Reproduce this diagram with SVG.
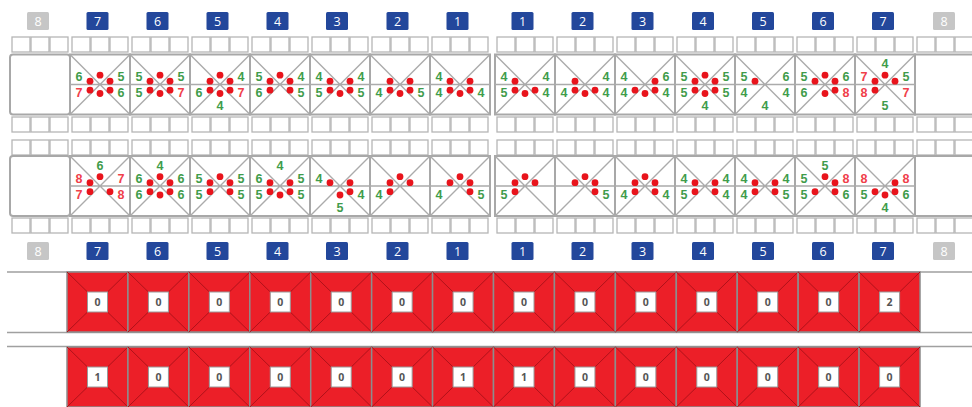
<svg xmlns="http://www.w3.org/2000/svg" xmlns:xlink="http://www.w3.org/1999/xlink" width="972" height="407" viewBox="0 0 972 407">
<style>
.cell{fill:#fff;stroke:#b6b6b6;stroke-width:1.3}
.box{fill:#fff;stroke:#a8a8a8;stroke-width:2}
.x{fill:none;stroke:#ababab;stroke-width:1.4}
.d{fill:#e8141c}
text{font-family:"Open Sans","Liberation Sans",sans-serif;text-anchor:middle}
.n{font-family:"Liberation Sans",Arial,sans-serif;font-size:12.5px;font-weight:700}
.g{fill:#3f9c4b}
.r{fill:#f0404a}
.bb{fill:#23479b}
.bg{fill:#c6c6c6}
.bt{fill:#fff;font-size:12.5px}
.sq{fill:#ec1f28;stroke:#8d8d8d;stroke-width:1.5}
.dg{fill:none;stroke:#b0121a;stroke-width:1}
.wb{fill:#fff;stroke:#9a9a9a;stroke-width:1}
.wt{font-size:10.5px;font-weight:700;fill:#555}
.hl{stroke:#a0a0a0;stroke-width:1.5;fill:none}
</style>
<defs>
<g id="c3"><rect class="cell" x="2" y="0" width="18" height="15"/><rect class="cell" x="21" y="0" width="18" height="15"/><rect class="cell" x="40" y="0" width="18" height="15"/></g>
<g id="xb"><rect class="box" width="60" height="60"/><path class="x" d="M0 0L60 60M60 0L0 60M0 30H60"/></g>
<g id="rsq"><rect class="sq" width="60.93" height="60"/><path class="dg" d="M0 0L20.5 20M60.93 0L40.5 20M0 60L20.5 40M60.93 60L40.5 40"/><rect class="wb" x="20.5" y="20" width="20" height="20"/></g>
</defs>

<!-- badges top -->
<g id="badges-top">
<rect class="bg" x="27" y="12" width="22" height="18" rx="1.5"/><text class="bt" x="38" y="25.5">8</text>
<rect class="bb" x="86.5" y="12" width="22" height="18" rx="1.5"/><text class="bt" x="97.5" y="25.5">7</text>
<rect class="bb" x="146.5" y="12" width="22" height="18" rx="1.5"/><text class="bt" x="157.5" y="25.5">6</text>
<rect class="bb" x="206.5" y="12" width="22" height="18" rx="1.5"/><text class="bt" x="217.5" y="25.5">5</text>
<rect class="bb" x="266.5" y="12" width="22" height="18" rx="1.5"/><text class="bt" x="277.5" y="25.5">4</text>
<rect class="bb" x="326" y="12" width="22" height="18" rx="1.5"/><text class="bt" x="337" y="25.5">3</text>
<rect class="bb" x="386.5" y="12" width="22" height="18" rx="1.5"/><text class="bt" x="397.5" y="25.5">2</text>
<rect class="bb" x="446.5" y="12" width="22" height="18" rx="1.5"/><text class="bt" x="457.5" y="25.5">1</text>
<rect class="bb" x="511.5" y="12" width="22" height="18" rx="1.5"/><text class="bt" x="522.5" y="25.5">1</text>
<rect class="bb" x="571.5" y="12" width="22" height="18" rx="1.5"/><text class="bt" x="582.5" y="25.5">2</text>
<rect class="bb" x="631.5" y="12" width="22" height="18" rx="1.5"/><text class="bt" x="642.5" y="25.5">3</text>
<rect class="bb" x="692" y="12" width="22" height="18" rx="1.5"/><text class="bt" x="703" y="25.5">4</text>
<rect class="bb" x="752" y="12" width="22" height="18" rx="1.5"/><text class="bt" x="763" y="25.5">5</text>
<rect class="bb" x="812" y="12" width="22" height="18" rx="1.5"/><text class="bt" x="823" y="25.5">6</text>
<rect class="bb" x="872" y="12" width="22" height="18" rx="1.5"/><text class="bt" x="883" y="25.5">7</text>
<rect class="bg" x="933" y="12" width="22" height="18" rx="1.5"/><text class="bt" x="944" y="25.5">8</text>
</g>

<!-- Panel 1 -->
<g id="p1-endL"><use href="#c3" x="10" y="37"/><rect class="box" x="10" y="54.5" width="60" height="60" rx="3"/><use href="#c3" x="10" y="117"/></g>
<g id="p1-endR"><use href="#c3" x="915" y="37"/><rect class="box" x="915" y="54.5" width="62" height="60"/><use href="#c3" x="915" y="117"/></g>

<g id="p1-L7"><use href="#c3" x="70" y="37"/><use href="#xb" x="70" y="54.5"/><use href="#c3" x="70" y="117"/>
<circle class="d" cx="90" cy="81.2" r="3.4"/><circle class="d" cx="90" cy="90.2" r="3.4"/><circle class="d" cx="100" cy="75.2" r="3.4"/><circle class="d" cx="100" cy="93.5" r="3.4"/><circle class="d" cx="110" cy="81.2" r="3.4"/><circle class="d" cx="110" cy="90.2" r="3.4"/>
<text class="n g" x="79" y="81">6</text><text class="n r" x="79" y="97">7</text><text class="n g" x="121" y="81">5</text><text class="n g" x="121" y="97">6</text></g>

<g id="p1-L6"><use href="#c3" x="130" y="37"/><use href="#xb" x="130" y="54.5"/><use href="#c3" x="130" y="117"/>
<circle class="d" cx="150" cy="81.2" r="3.4"/><circle class="d" cx="150" cy="90.2" r="3.4"/><circle class="d" cx="160" cy="75.2" r="3.4"/><circle class="d" cx="160" cy="93.5" r="3.4"/><circle class="d" cx="170" cy="81.2" r="3.4"/><circle class="d" cx="170" cy="90.2" r="3.4"/>
<text class="n g" x="139" y="81">5</text><text class="n g" x="139" y="97">5</text><text class="n g" x="181" y="81">5</text><text class="n r" x="181" y="97">7</text></g>

<g id="p1-L5"><use href="#c3" x="190" y="37"/><use href="#xb" x="190" y="54.5"/><use href="#c3" x="190" y="117"/>
<circle class="d" cx="210" cy="81.2" r="3.4"/><circle class="d" cx="210" cy="90.2" r="3.4"/><circle class="d" cx="220" cy="75.2" r="3.4"/><circle class="d" cx="220" cy="93.5" r="3.4"/><circle class="d" cx="230" cy="81.2" r="3.4"/><circle class="d" cx="230" cy="90.2" r="3.4"/>
<text class="n g" x="241" y="81">4</text><text class="n g" x="199" y="97">6</text><text class="n r" x="241" y="97">7</text><text class="n g" x="220" y="110">4</text></g>

<g id="p1-L4"><use href="#c3" x="250" y="37"/><use href="#xb" x="250" y="54.5"/><use href="#c3" x="250" y="117"/>
<circle class="d" cx="270" cy="81.2" r="3.4"/><circle class="d" cx="280" cy="75.2" r="3.4"/><circle class="d" cx="290" cy="81.2" r="3.4"/><circle class="d" cx="270" cy="90.2" r="3.4"/><circle class="d" cx="290" cy="90.2" r="3.4"/>
<text class="n g" x="259" y="81">5</text><text class="n g" x="259" y="97">6</text><text class="n g" x="301" y="81">4</text><text class="n g" x="301" y="97">5</text></g>

<g id="p1-L3"><use href="#c3" x="310" y="37"/><use href="#xb" x="310" y="54.5"/><use href="#c3" x="310" y="117"/>
<circle class="d" cx="330" cy="81.2" r="3.4"/><circle class="d" cx="350" cy="81.2" r="3.4"/><circle class="d" cx="330" cy="90.2" r="3.4"/><circle class="d" cx="340" cy="93.5" r="3.4"/><circle class="d" cx="350" cy="90.2" r="3.4"/>
<text class="n g" x="319" y="81">4</text><text class="n g" x="319" y="97">5</text><text class="n g" x="361" y="81">4</text><text class="n g" x="361" y="97">5</text></g>

<g id="p1-L2"><use href="#c3" x="370" y="37"/><use href="#xb" x="370" y="54.5"/><use href="#c3" x="370" y="117"/>
<circle class="d" cx="390" cy="81.2" r="3.4"/><circle class="d" cx="410" cy="81.2" r="3.4"/><circle class="d" cx="390" cy="90.2" r="3.4"/><circle class="d" cx="400" cy="93.5" r="3.4"/><circle class="d" cx="410" cy="90.2" r="3.4"/>
<text class="n g" x="379" y="97">4</text><text class="n g" x="421" y="97">5</text></g>

<g id="p1-L1"><use href="#c3" x="430" y="37"/><use href="#xb" x="430" y="54.5"/><use href="#c3" x="430" y="117"/>
<circle class="d" cx="450" cy="81.2" r="3.4"/><circle class="d" cx="470" cy="81.2" r="3.4"/><circle class="d" cx="450" cy="90.2" r="3.4"/><circle class="d" cx="460" cy="93.5" r="3.4"/><circle class="d" cx="470" cy="90.2" r="3.4"/>
<text class="n g" x="439" y="81">4</text><text class="n g" x="439" y="97">4</text><text class="n g" x="481" y="97">4</text></g>

<g id="p1-R1"><use href="#c3" x="495" y="37"/><use href="#xb" x="495" y="54.5"/><use href="#c3" x="495" y="117"/>
<circle class="d" cx="515" cy="81.2" r="3.4"/><circle class="d" cx="515" cy="90.2" r="3.4"/><circle class="d" cx="525" cy="93.5" r="3.4"/><circle class="d" cx="535" cy="90.2" r="3.4"/>
<text class="n g" x="504" y="81">4</text><text class="n g" x="504" y="97">5</text><text class="n g" x="546" y="81">4</text><text class="n g" x="546" y="97">4</text></g>

<g id="p1-R2"><use href="#c3" x="555" y="37"/><use href="#xb" x="555" y="54.5"/><use href="#c3" x="555" y="117"/>
<circle class="d" cx="575" cy="81.2" r="3.4"/><circle class="d" cx="575" cy="90.2" r="3.4"/><circle class="d" cx="585" cy="93.5" r="3.4"/><circle class="d" cx="595" cy="90.2" r="3.4"/>
<text class="n g" x="606" y="81">4</text><text class="n g" x="564" y="97">4</text><text class="n g" x="606" y="97">4</text></g>

<g id="p1-R3"><use href="#c3" x="615" y="37"/><use href="#xb" x="615" y="54.5"/><use href="#c3" x="615" y="117"/>
<circle class="d" cx="635" cy="90.2" r="3.4"/><circle class="d" cx="645" cy="93.5" r="3.4"/><circle class="d" cx="655" cy="81.2" r="3.4"/><circle class="d" cx="655" cy="90.2" r="3.4"/>
<text class="n g" x="624" y="81">4</text><text class="n g" x="666" y="81">6</text><text class="n g" x="624" y="97">4</text><text class="n g" x="666" y="97">4</text></g>

<g id="p1-R4"><use href="#c3" x="675" y="37"/><use href="#xb" x="675" y="54.5"/><use href="#c3" x="675" y="117"/>
<circle class="d" cx="695" cy="81.2" r="3.4"/><circle class="d" cx="695" cy="90.2" r="3.4"/><circle class="d" cx="705" cy="75.2" r="3.4"/><circle class="d" cx="705" cy="93.5" r="3.4"/><circle class="d" cx="715" cy="81.2" r="3.4"/><circle class="d" cx="715" cy="90.2" r="3.4"/>
<text class="n g" x="684" y="81">5</text><text class="n g" x="726" y="81">5</text><text class="n g" x="684" y="97">5</text><text class="n g" x="726" y="97">5</text><text class="n g" x="705" y="110">4</text></g>

<g id="p1-R5"><use href="#c3" x="735" y="37"/><use href="#xb" x="735" y="54.5"/><use href="#c3" x="735" y="117"/>
<circle class="d" cx="755" cy="81.2" r="3.4"/>
<text class="n g" x="744" y="81">5</text><text class="n g" x="786" y="81">6</text><text class="n g" x="744" y="97">4</text><text class="n g" x="786" y="97">4</text><text class="n g" x="765" y="110">4</text></g>

<g id="p1-R6"><use href="#c3" x="795" y="37"/><use href="#xb" x="795" y="54.5"/><use href="#c3" x="795" y="117"/>
<circle class="d" cx="815" cy="81.2" r="3.4"/><circle class="d" cx="825" cy="75.2" r="3.4"/><circle class="d" cx="835" cy="81.2" r="3.4"/><circle class="d" cx="835" cy="90.2" r="3.4"/><circle class="d" cx="825" cy="93.5" r="3.4"/>
<text class="n g" x="804" y="81">5</text><text class="n g" x="846" y="81">6</text><text class="n g" x="804" y="97">6</text><text class="n r" x="846" y="97">8</text></g>

<g id="p1-R7"><use href="#c3" x="855" y="37"/><use href="#xb" x="855" y="54.5"/><use href="#c3" x="855" y="117"/>
<circle class="d" cx="875" cy="81.2" r="3.4"/><circle class="d" cx="885" cy="75.2" r="3.4"/><circle class="d" cx="895" cy="81.2" r="3.4"/><circle class="d" cx="875" cy="90.2" r="3.4"/>
<text class="n g" x="885" y="68">4</text><text class="n r" x="864" y="81">7</text><text class="n g" x="906" y="81">5</text><text class="n r" x="864" y="97">8</text><text class="n r" x="906" y="97">7</text><text class="n g" x="885" y="110">5</text></g>

<!-- Panel 2 -->
<g id="p2-endL"><use href="#c3" x="10" y="140"/><rect class="box" x="10" y="156" width="60" height="60" rx="3"/><use href="#c3" x="10" y="218"/></g>
<g id="p2-endR"><use href="#c3" x="915" y="140"/><rect class="box" x="915" y="156" width="62" height="60"/><use href="#c3" x="915" y="218"/></g>

<g id="p2-L7"><use href="#c3" x="70" y="140"/><use href="#xb" x="70" y="156"/><use href="#c3" x="70" y="218"/>
<circle class="d" cx="90" cy="182.7" r="3.4"/><circle class="d" cx="100" cy="176.7" r="3.4"/><circle class="d" cx="90" cy="191.7" r="3.4"/><circle class="d" cx="110" cy="191.7" r="3.4"/>
<text class="n g" x="100" y="169.5">6</text><text class="n r" x="79" y="182.5">8</text><text class="n r" x="79" y="198.5">7</text><text class="n r" x="121" y="182.5">7</text><text class="n r" x="121" y="198.5">8</text></g>

<g id="p2-L6"><use href="#c3" x="130" y="140"/><use href="#xb" x="130" y="156"/><use href="#c3" x="130" y="218"/>
<circle class="d" cx="150" cy="182.7" r="3.4"/><circle class="d" cx="150" cy="191.7" r="3.4"/><circle class="d" cx="160" cy="176.7" r="3.4"/><circle class="d" cx="160" cy="195" r="3.4"/><circle class="d" cx="170" cy="182.7" r="3.4"/><circle class="d" cx="170" cy="191.7" r="3.4"/>
<text class="n g" x="160" y="169.5">4</text><text class="n g" x="139" y="182.5">6</text><text class="n g" x="139" y="198.5">6</text><text class="n g" x="181" y="182.5">6</text><text class="n g" x="181" y="198.5">6</text></g>

<g id="p2-L5"><use href="#c3" x="190" y="140"/><use href="#xb" x="190" y="156"/><use href="#c3" x="190" y="218"/>
<circle class="d" cx="210" cy="182.7" r="3.4"/><circle class="d" cx="220" cy="176.7" r="3.4"/><circle class="d" cx="230" cy="182.7" r="3.4"/><circle class="d" cx="210" cy="191.7" r="3.4"/><circle class="d" cx="230" cy="191.7" r="3.4"/>
<text class="n g" x="199" y="182.5">5</text><text class="n g" x="199" y="198.5">5</text><text class="n g" x="241" y="182.5">5</text><text class="n g" x="241" y="198.5">5</text></g>

<g id="p2-L4"><use href="#c3" x="250" y="140"/><use href="#xb" x="250" y="156"/><use href="#c3" x="250" y="218"/>
<circle class="d" cx="270" cy="182.7" r="3.4"/><circle class="d" cx="290" cy="182.7" r="3.4"/><circle class="d" cx="270" cy="191.7" r="3.4"/><circle class="d" cx="280" cy="195" r="3.4"/><circle class="d" cx="290" cy="191.7" r="3.4"/>
<text class="n g" x="280" y="169.5">4</text><text class="n g" x="259" y="182.5">6</text><text class="n g" x="259" y="198.5">5</text><text class="n g" x="301" y="182.5">5</text><text class="n g" x="301" y="198.5">5</text></g>

<g id="p2-L3"><use href="#c3" x="310" y="140"/><use href="#xb" x="310" y="156"/><use href="#c3" x="310" y="218"/>
<circle class="d" cx="330" cy="182.7" r="3.4"/><circle class="d" cx="350" cy="182.7" r="3.4"/><circle class="d" cx="340" cy="195" r="3.4"/><circle class="d" cx="350" cy="191.7" r="3.4"/>
<text class="n g" x="319" y="182.5">4</text><text class="n g" x="361" y="198.5">4</text><text class="n g" x="340" y="211.5">5</text></g>

<g id="p2-L2"><use href="#c3" x="370" y="140"/><use href="#xb" x="370" y="156"/><use href="#c3" x="370" y="218"/>
<circle class="d" cx="390" cy="182.7" r="3.4"/><circle class="d" cx="400" cy="176.7" r="3.4"/><circle class="d" cx="410" cy="182.7" r="3.4"/><circle class="d" cx="390" cy="191.7" r="3.4"/>
<text class="n g" x="379" y="198.5">4</text></g>

<g id="p2-L1"><use href="#c3" x="430" y="140"/><use href="#xb" x="430" y="156"/><use href="#c3" x="430" y="218"/>
<circle class="d" cx="450" cy="182.7" r="3.4"/><circle class="d" cx="460" cy="176.7" r="3.4"/><circle class="d" cx="470" cy="182.7" r="3.4"/><circle class="d" cx="470" cy="191.7" r="3.4"/>
<text class="n g" x="439" y="198.5">4</text><text class="n g" x="481" y="198.5">5</text></g>

<g id="p2-R1"><use href="#c3" x="495" y="140"/><use href="#xb" x="495" y="156"/><use href="#c3" x="495" y="218"/>
<circle class="d" cx="515" cy="182.7" r="3.4"/><circle class="d" cx="525" cy="176.7" r="3.4"/><circle class="d" cx="535" cy="182.7" r="3.4"/><circle class="d" cx="515" cy="191.7" r="3.4"/>
<text class="n g" x="504" y="198.5">5</text></g>

<g id="p2-R2"><use href="#c3" x="555" y="140"/><use href="#xb" x="555" y="156"/><use href="#c3" x="555" y="218"/>
<circle class="d" cx="575" cy="182.7" r="3.4"/><circle class="d" cx="585" cy="176.7" r="3.4"/><circle class="d" cx="595" cy="182.7" r="3.4"/><circle class="d" cx="595" cy="191.7" r="3.4"/>
<text class="n g" x="606" y="198.5">5</text></g>

<g id="p2-R3"><use href="#c3" x="615" y="140"/><use href="#xb" x="615" y="156"/><use href="#c3" x="615" y="218"/>
<circle class="d" cx="635" cy="182.7" r="3.4"/><circle class="d" cx="645" cy="176.7" r="3.4"/><circle class="d" cx="655" cy="182.7" r="3.4"/><circle class="d" cx="635" cy="191.7" r="3.4"/><circle class="d" cx="655" cy="191.7" r="3.4"/>
<text class="n g" x="624" y="198.5">4</text><text class="n g" x="666" y="198.5">4</text></g>

<g id="p2-R4"><use href="#c3" x="675" y="140"/><use href="#xb" x="675" y="156"/><use href="#c3" x="675" y="218"/>
<circle class="d" cx="695" cy="182.7" r="3.4"/><circle class="d" cx="715" cy="182.7" r="3.4"/><circle class="d" cx="695" cy="191.7" r="3.4"/><circle class="d" cx="715" cy="191.7" r="3.4"/>
<text class="n g" x="684" y="182.5">4</text><text class="n g" x="726" y="182.5">4</text><text class="n g" x="684" y="198.5">5</text><text class="n g" x="726" y="198.5">4</text></g>

<g id="p2-R5"><use href="#c3" x="735" y="140"/><use href="#xb" x="735" y="156"/><use href="#c3" x="735" y="218"/>
<circle class="d" cx="755" cy="182.7" r="3.4"/><circle class="d" cx="775" cy="182.7" r="3.4"/><circle class="d" cx="755" cy="191.7" r="3.4"/><circle class="d" cx="775" cy="191.7" r="3.4"/>
<text class="n g" x="744" y="182.5">4</text><text class="n g" x="786" y="182.5">4</text><text class="n g" x="744" y="198.5">4</text><text class="n g" x="786" y="198.5">5</text></g>

<g id="p2-R6"><use href="#c3" x="795" y="140"/><use href="#xb" x="795" y="156"/><use href="#c3" x="795" y="218"/>
<circle class="d" cx="825" cy="176.7" r="3.4"/><circle class="d" cx="835" cy="182.7" r="3.4"/><circle class="d" cx="815" cy="191.7" r="3.4"/><circle class="d" cx="835" cy="191.7" r="3.4"/>
<text class="n g" x="825" y="169.5">5</text><text class="n g" x="804" y="182.5">5</text><text class="n r" x="846" y="182.5">8</text><text class="n g" x="804" y="198.5">5</text><text class="n g" x="846" y="198.5">6</text></g>

<g id="p2-R7"><use href="#c3" x="855" y="140"/><use href="#xb" x="855" y="156"/><use href="#c3" x="855" y="218"/>
<circle class="d" cx="895" cy="182.7" r="3.4"/><circle class="d" cx="875" cy="191.7" r="3.4"/><circle class="d" cx="885" cy="195" r="3.4"/><circle class="d" cx="895" cy="191.7" r="3.4"/>
<text class="n r" x="864" y="182.5">8</text><text class="n r" x="906" y="182.5">8</text><text class="n g" x="864" y="198.5">5</text><text class="n g" x="906" y="198.5">6</text><text class="n g" x="885" y="211.5">4</text></g>

<!-- badges bottom -->
<g id="badges-bottom">
<rect class="bg" x="27" y="242" width="22" height="18" rx="1.5"/><text class="bt" x="38" y="255.5">8</text>
<rect class="bb" x="86.5" y="242" width="22" height="18" rx="1.5"/><text class="bt" x="97.5" y="255.5">7</text>
<rect class="bb" x="146.5" y="242" width="22" height="18" rx="1.5"/><text class="bt" x="157.5" y="255.5">6</text>
<rect class="bb" x="206.5" y="242" width="22" height="18" rx="1.5"/><text class="bt" x="217.5" y="255.5">5</text>
<rect class="bb" x="266.5" y="242" width="22" height="18" rx="1.5"/><text class="bt" x="277.5" y="255.5">4</text>
<rect class="bb" x="326" y="242" width="22" height="18" rx="1.5"/><text class="bt" x="337" y="255.5">3</text>
<rect class="bb" x="386.5" y="242" width="22" height="18" rx="1.5"/><text class="bt" x="397.5" y="255.5">2</text>
<rect class="bb" x="446.5" y="242" width="22" height="18" rx="1.5"/><text class="bt" x="457.5" y="255.5">1</text>
<rect class="bb" x="511.5" y="242" width="22" height="18" rx="1.5"/><text class="bt" x="522.5" y="255.5">1</text>
<rect class="bb" x="571.5" y="242" width="22" height="18" rx="1.5"/><text class="bt" x="582.5" y="255.5">2</text>
<rect class="bb" x="631.5" y="242" width="22" height="18" rx="1.5"/><text class="bt" x="642.5" y="255.5">3</text>
<rect class="bb" x="692" y="242" width="22" height="18" rx="1.5"/><text class="bt" x="703" y="255.5">4</text>
<rect class="bb" x="752" y="242" width="22" height="18" rx="1.5"/><text class="bt" x="763" y="255.5">5</text>
<rect class="bb" x="812" y="242" width="22" height="18" rx="1.5"/><text class="bt" x="823" y="255.5">6</text>
<rect class="bb" x="872" y="242" width="22" height="18" rx="1.5"/><text class="bt" x="883" y="255.5">7</text>
<rect class="bg" x="933" y="242" width="22" height="18" rx="1.5"/><text class="bt" x="944" y="255.5">8</text>
</g>

<!-- Red rows -->
<g id="row1-frame"><path class="hl" d="M7 272H972M7 332.5H972"/></g>
<g id="row1">
<use href="#rsq" x="67" y="272"/><text class="wt" x="97.5" y="306">0</text>
<use href="#rsq" x="127.93" y="272"/><text class="wt" x="158.4" y="306">0</text>
<use href="#rsq" x="188.86" y="272"/><text class="wt" x="219.3" y="306">0</text>
<use href="#rsq" x="249.79" y="272"/><text class="wt" x="280.3" y="306">0</text>
<use href="#rsq" x="310.72" y="272"/><text class="wt" x="341.2" y="306">0</text>
<use href="#rsq" x="371.65" y="272"/><text class="wt" x="402.1" y="306">0</text>
<use href="#rsq" x="432.58" y="272"/><text class="wt" x="463" y="306">0</text>
<use href="#rsq" x="493.51" y="272"/><text class="wt" x="524" y="306">0</text>
<use href="#rsq" x="554.44" y="272"/><text class="wt" x="584.9" y="306">0</text>
<use href="#rsq" x="615.37" y="272"/><text class="wt" x="645.8" y="306">0</text>
<use href="#rsq" x="676.3" y="272"/><text class="wt" x="706.8" y="306">0</text>
<use href="#rsq" x="737.23" y="272"/><text class="wt" x="767.7" y="306">0</text>
<use href="#rsq" x="798.16" y="272"/><text class="wt" x="828.6" y="306">0</text>
<use href="#rsq" x="859.09" y="272"/><text class="wt" x="889.6" y="306">2</text>
</g>
<g id="row2-frame"><path class="hl" d="M7 346.5H972"/></g>
<g id="row2">
<use href="#rsq" x="67" y="347"/><text class="wt" x="97.5" y="381">1</text>
<use href="#rsq" x="127.93" y="347"/><text class="wt" x="158.4" y="381">0</text>
<use href="#rsq" x="188.86" y="347"/><text class="wt" x="219.3" y="381">0</text>
<use href="#rsq" x="249.79" y="347"/><text class="wt" x="280.3" y="381">0</text>
<use href="#rsq" x="310.72" y="347"/><text class="wt" x="341.2" y="381">0</text>
<use href="#rsq" x="371.65" y="347"/><text class="wt" x="402.1" y="381">0</text>
<use href="#rsq" x="432.58" y="347"/><text class="wt" x="463" y="381">1</text>
<use href="#rsq" x="493.51" y="347"/><text class="wt" x="524" y="381">1</text>
<use href="#rsq" x="554.44" y="347"/><text class="wt" x="584.9" y="381">0</text>
<use href="#rsq" x="615.37" y="347"/><text class="wt" x="645.8" y="381">0</text>
<use href="#rsq" x="676.3" y="347"/><text class="wt" x="706.8" y="381">0</text>
<use href="#rsq" x="737.23" y="347"/><text class="wt" x="767.7" y="381">0</text>
<use href="#rsq" x="798.16" y="347"/><text class="wt" x="828.6" y="381">0</text>
<use href="#rsq" x="859.09" y="347"/><text class="wt" x="889.6" y="381">0</text>
</g>
</svg>
